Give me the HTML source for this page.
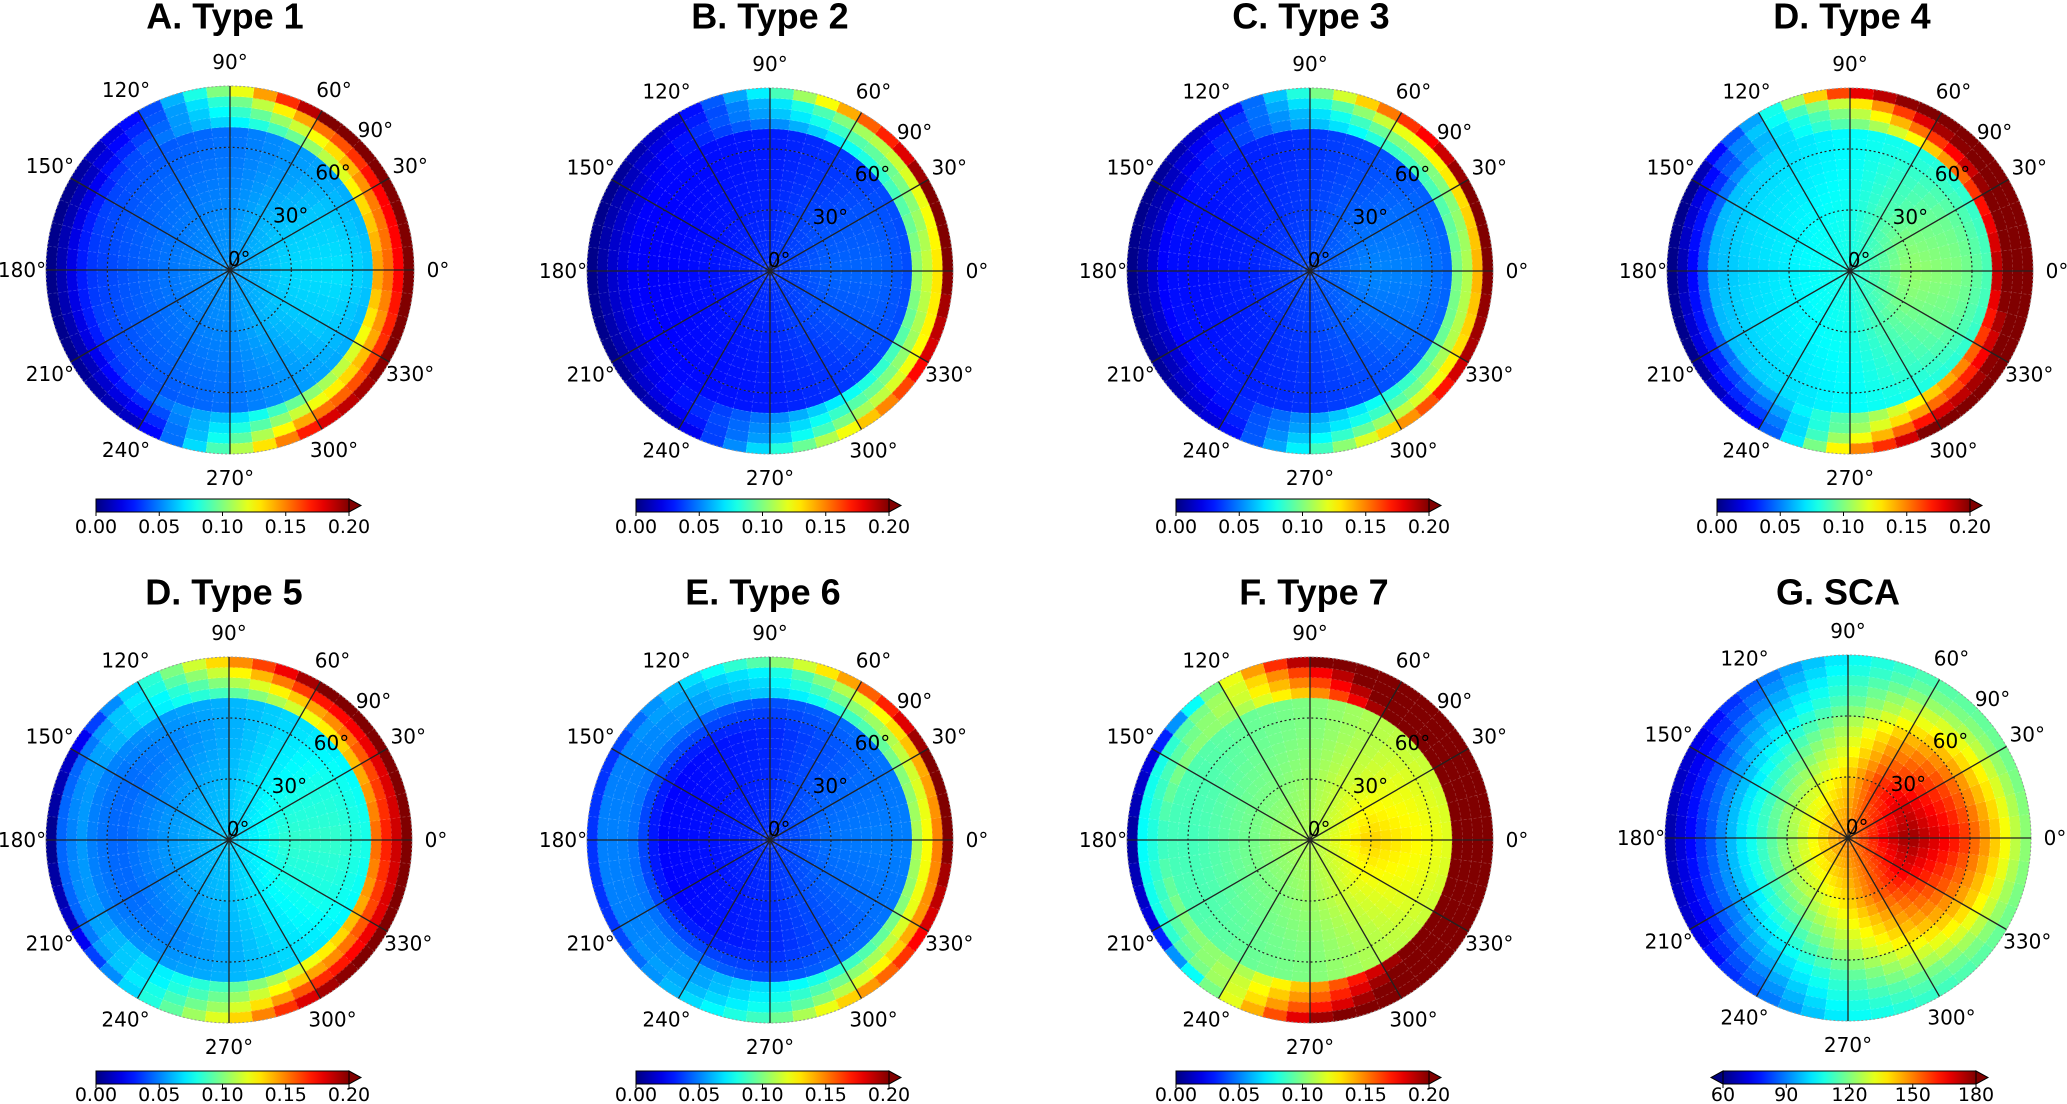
<!DOCTYPE html>
<html><head><meta charset="utf-8">
<style>
html,body{margin:0;padding:0;background:#fff;}
svg{display:block;}
</style></head>
<body>
<svg id="fig" xmlns="http://www.w3.org/2000/svg" width="2067" height="1104" viewBox="0 0 2067 1104">
<defs id="defs"></defs>
</svg>
<script>
// ---- data ----
const azimuthNodes = [0,30,60,90,120,150,180,210,240,270,300,330];
const zenithNodes = [0,30,55,67.5,72.5,77.5,82.5,87.5];
const panelTitles = ["A. Type 1","B. Type 2","C. Type 3","D. Type 4","D. Type 5","E. Type 6","F. Type 7","G. SCA"];
const typeTicks = ["0.00","0.05","0.10","0.15","0.20"];
const scaTicks = ["60","90","120","150","180"];
const angleTicks = [0,30,60,90,120,150,180,210,240,270,300,330];
const radialTicks = ["0°","30°","60°","90°"];

const type1Values = [
[.055,.068,.070,.065,.145,.155,.175,.200],
[.055,.065,.065,.060,.130,.150,.175,.200],
[.055,.060,.055,.055,.100,.120,.150,.200],
[.055,.052,.048,.047,.070,.080,.090,.110],
[.055,.050,.045,.042,.045,.040,.035,.030],
[.055,.048,.042,.038,.030,.020,.010,.003],
[.055,.048,.040,.035,.030,.020,.010,.002],
[.055,.048,.042,.038,.030,.020,.010,.003],
[.055,.050,.045,.042,.045,.035,.025,.015],
[.055,.052,.048,.047,.065,.075,.085,.100],
[.055,.060,.055,.055,.100,.120,.150,.180],
[.055,.065,.065,.060,.120,.140,.165,.200]];
const type2Values = [
[.035,.045,.045,.040,.105,.115,.130,.200],
[.035,.042,.042,.040,.090,.100,.120,.200],
[.035,.038,.035,.035,.075,.090,.105,.150],
[.035,.032,.030,.030,.050,.060,.065,.080],
[.035,.030,.027,.027,.030,.030,.025,.020],
[.035,.028,.025,.025,.020,.015,.010,.003],
[.035,.028,.024,.024,.020,.015,.008,.002],
[.035,.028,.025,.025,.020,.015,.010,.003],
[.035,.030,.027,.027,.030,.030,.025,.015],
[.035,.032,.030,.030,.050,.055,.060,.075],
[.035,.038,.035,.035,.075,.090,.105,.130],
[.035,.042,.042,.040,.090,.105,.125,.180]];
const type3Values = [
[.040,.052,.050,.045,.100,.110,.140,.200],
[.040,.048,.047,.044,.090,.100,.130,.200],
[.040,.043,.040,.040,.085,.100,.120,.160],
[.040,.037,.035,.035,.060,.065,.075,.090],
[.040,.034,.031,.031,.035,.035,.030,.020],
[.040,.032,.028,.028,.025,.015,.010,.003],
[.040,.031,.027,.027,.025,.015,.008,.002],
[.040,.032,.028,.028,.025,.015,.010,.003],
[.040,.034,.031,.031,.030,.030,.025,.020],
[.040,.037,.035,.035,.055,.060,.070,.080],
[.040,.043,.040,.040,.080,.090,.110,.140],
[.040,.048,.047,.044,.095,.110,.130,.190]];
const type4Values = [
[.080,.105,.100,.090,.190,.210,.220,.220],
[.080,.100,.095,.085,.170,.200,.210,.220],
[.080,.090,.085,.080,.130,.160,.190,.210],
[.080,.078,.075,.075,.095,.105,.120,.175],
[.080,.075,.070,.068,.065,.065,.070,.065],
[.080,.073,.068,.062,.045,.030,.020,.003],
[.080,.072,.066,.060,.040,.025,.010,.002],
[.080,.073,.068,.062,.045,.030,.020,.003],
[.080,.075,.070,.068,.060,.050,.040,.030],
[.080,.078,.075,.075,.095,.100,.115,.140],
[.080,.090,.085,.080,.130,.150,.180,.210],
[.080,.100,.095,.085,.160,.180,.200,.220]];
const type5Values = [
[.065,.085,.085,.080,.155,.170,.185,.210],
[.065,.080,.080,.075,.140,.160,.180,.210],
[.065,.072,.070,.068,.120,.140,.170,.200],
[.065,.062,.058,.060,.090,.105,.120,.140],
[.065,.058,.050,.055,.070,.070,.075,.075],
[.065,.055,.045,.050,.055,.055,.045,.015],
[.065,.055,.044,.050,.055,.050,.045,.002],
[.065,.055,.045,.050,.055,.055,.045,.015],
[.065,.058,.050,.055,.070,.070,.075,.075],
[.065,.062,.058,.060,.090,.100,.110,.125],
[.065,.072,.070,.068,.120,.140,.165,.190],
[.065,.080,.080,.075,.140,.160,.180,.210]];
const type6Values = [
[.035,.048,.050,.050,.110,.125,.150,.200],
[.035,.045,.047,.048,.100,.115,.140,.200],
[.035,.040,.040,.045,.085,.100,.115,.150],
[.035,.033,.032,.040,.065,.070,.075,.095],
[.035,.030,.028,.045,.055,.055,.060,.065],
[.035,.028,.025,.048,.050,.050,.050,.035],
[.035,.028,.025,.048,.050,.050,.050,.035],
[.035,.028,.025,.048,.050,.050,.050,.035],
[.035,.030,.028,.045,.055,.055,.060,.065],
[.035,.033,.032,.040,.070,.075,.080,.090],
[.035,.040,.040,.045,.085,.100,.115,.140],
[.035,.045,.047,.048,.100,.120,.145,.180]];
const type7Values = [
[.110,.135,.125,.120,.220,.220,.220,.220],
[.110,.125,.120,.115,.220,.220,.220,.220],
[.110,.115,.110,.110,.200,.210,.220,.220],
[.110,.105,.100,.100,.140,.155,.170,.200],
[.110,.100,.095,.095,.105,.110,.110,.110],
[.110,.098,.090,.090,.100,.090,.080,.020],
[.110,.097,.088,.088,.085,.080,.075,.005],
[.110,.098,.090,.090,.100,.090,.080,.020],
[.110,.100,.095,.095,.105,.110,.110,.110],
[.110,.105,.100,.100,.140,.150,.165,.190],
[.110,.115,.110,.110,.190,.200,.210,.220],
[.110,.125,.120,.115,.220,.220,.220,.220]];
const scaValues = [
[150,178,162,148,142,135,128,122],
[150,170,155,140,135,128,122,118],
[150,160,145,132,128,122,118,115],
[150,140,125,115,112,110,107,105],
[150,130,110,100,97,93,90,87],
[150,125,100,88,84,78,74,70],
[150,122,100,85,80,75,70,65],
[150,125,100,88,84,78,74,70],
[150,130,110,100,97,93,90,87],
[150,140,125,115,112,110,107,105],
[150,155,140,128,124,118,115,112],
[150,168,152,140,134,128,122,118]];

// ---- layout ----
const NS = "http://www.w3.org/2000/svg";
const svg = document.getElementById('fig');
const defs = document.getElementById('defs');
const panels = [
 {vals:type1Values,min:0,max:0.2,cx:230,cy:270,rx:184,ry:184,tx:225,ty:16,bx:96,by:499,ly:527,ticks:typeTicks,both:false},
 {vals:type2Values,min:0,max:0.2,cx:770,cy:271,rx:183,ry:183,tx:770,ty:16,bx:636,by:499,ly:527,ticks:typeTicks,both:false},
 {vals:type3Values,min:0,max:0.2,cx:1310,cy:271,rx:183,ry:183,tx:1311,ty:16,bx:1176,by:499,ly:527,ticks:typeTicks,both:false},
 {vals:type4Values,min:0,max:0.2,cx:1850,cy:271,rx:183,ry:183,tx:1852,ty:16,bx:1717,by:499,ly:527,ticks:typeTicks,both:false},
 {vals:type5Values,min:0,max:0.2,cx:229,cy:840,rx:183,ry:183,tx:224,ty:592,bx:96,by:1071,ly:1095,ticks:typeTicks,both:false},
 {vals:type6Values,min:0,max:0.2,cx:770,cy:840,rx:183,ry:183,tx:763,ty:592,bx:636,by:1071,ly:1095,ticks:typeTicks,both:false},
 {vals:type7Values,min:0,max:0.2,cx:1310,cy:840,rx:183,ry:183,tx:1314,ty:592,bx:1176,by:1071,ly:1095,ticks:typeTicks,both:false},
 {vals:scaValues,min:60,max:180,cx:1848,cy:838,rx:183,ry:183,tx:1838,ty:592,bx:1723,by:1071,ly:1095,ticks:scaTicks,both:true}
];
const BAR_W = 253, BAR_H = 13;

function clamp(v){return Math.max(0,Math.min(1,v));}
function jet(t){
  t = clamp(t);
  const r = clamp(1.5-Math.abs(4*t-3)), g = clamp(1.5-Math.abs(4*t-2)), b = clamp(1.5-Math.abs(4*t-1));
  return 'rgb('+Math.round(r*255)+','+Math.round(g*255)+','+Math.round(b*255)+')';
}
function sample(vals, az, z){
  az = ((az%360)+360)%360;
  const n = azimuthNodes.length;
  let i = Math.floor(az/30) % n; const fa = (az - azimuthNodes[i])/30; const i2 = (i+1)%n;
  let j = 0;
  while (j < zenithNodes.length-2 && z > zenithNodes[j+1]) j++;
  let fz = (z - zenithNodes[j])/(zenithNodes[j+1]-zenithNodes[j]);
  fz = Math.max(0, Math.min(1, fz));
  const v1 = vals[i][j]*(1-fz)+vals[i][j+1]*fz;
  const v2 = vals[i2][j]*(1-fz)+vals[i2][j+1]*fz;
  return v1*(1-fa)+v2*fa;
}
function mk(tag, attrs, parent){
  const e = document.createElementNS(NS, tag);
  for (const k in attrs) e.setAttribute(k, attrs[k]);
  (parent||svg).appendChild(e);
  return e;
}
function pt(p, z, a){
  const rad = a*Math.PI/180;
  return [p.cx + p.rx*(z/90)*Math.cos(rad), p.cy - p.ry*(z/90)*Math.sin(rad)];
}

const grad = mk('linearGradient',{id:'jetgrad',x1:'0',x2:'1',y1:'0',y2:'0'},defs);
for (let s=0;s<=20;s++){ mk('stop',{offset:(s/20),'stop-color':jet(s/20)},grad); }

panels.forEach((p, pi) => {
  const g = mk('g',{});
  
  
  const t = mk('text',{x:p.tx,y:p.ty,'text-anchor':'middle','dominant-baseline':'central','font-family':'"Liberation Sans", sans-serif','font-weight':'bold','font-size':'36'},g);
  t.textContent = panelTitles[pi];
  
  
  const cells = mk('g',{},g);
  
  
  for (let j=0;j<18;j++){
    const z0=j*5, z1=z0+5, zc=z0+2.5;
    for (let k=0;k<48;k++){
      const a0=k*7.5, a1=a0+7.5, ac=a0+3.75;
      const v = sample(p.vals, ac, zc);
      const col = jet((v-p.min)/(p.max-p.min));
      const pts = [pt(p,z1,a0),pt(p,z1,ac),pt(p,z1,a1)];
      if (z0>0){ pts.push(pt(p,z0,a1),pt(p,z0,ac),pt(p,z0,a0)); } else { pts.push([p.cx,p.cy]); }
      const poly = mk('polygon',{points:pts.map(q=>q[0].toFixed(1)+','+q[1].toFixed(1)).join(' '),fill:col,stroke:col,'stroke-width':'0.6'},cells);
      
      
    }
  }
  const fg = mk('g',{stroke:'rgba(255,255,255,0.22)','stroke-width':'0.7','stroke-dasharray':'3,2',fill:'none'},g);
  for (let j=1;j<18;j++){ mk('ellipse',{cx:p.cx,cy:p.cy,rx:p.rx*j/18,ry:p.ry*j/18},fg); }
  for (let k=0;k<48;k++){ const q=pt(p,90,k*7.5); mk('line',{x1:p.cx,y1:p.cy,x2:q[0],y2:q[1]},fg); }
  [30,60].forEach(z=>{
    const c = mk('ellipse',{cx:p.cx,cy:p.cy,rx:p.rx*z/90,ry:p.ry*z/90,fill:'none',stroke:'#222','stroke-width':'1.2','stroke-dasharray':'2,2.5'},g);
    
    
  });
  const edge = mk('ellipse',{cx:p.cx,cy:p.cy,rx:p.rx,ry:p.ry,fill:'none',stroke:'#999','stroke-width':'1','stroke-dasharray':'2,2'},g);
  
  
  angleTicks.forEach(a=>{
    const q = pt(p,90,a);
    const ln = mk('line',{x1:p.cx,y1:p.cy,x2:q[0],y2:q[1],stroke:'#222','stroke-width':'1.3'},g);
    
    
    const rad=a*Math.PI/180;
    const lx = p.cx + (p.rx+24)*Math.cos(rad), ly = p.cy - (p.ry+24)*Math.sin(rad);
    const lt = mk('text',{x:lx,y:ly,'text-anchor':'middle','dominant-baseline':'central','font-family':'"DejaVu Sans", sans-serif','font-size':'20'},g);
    lt.textContent = a+'°';
    
    
  });
  const rpos = [[0.05,-0.06],[0.33,-0.295],[0.56,-0.53],[0.79,-0.76]];
  radialTicks.forEach((s,i)=>{
    const rt = mk('text',{x:p.cx+rpos[i][0]*p.rx,y:p.cy+rpos[i][1]*p.ry,'text-anchor':'middle','dominant-baseline':'central','font-family':'"DejaVu Sans", sans-serif','font-size':'20'},g);
    rt.textContent = s;
    
    
  });
  const cb = mk('g',{},g);
  
  
  const x0=p.bx, x1=p.bx+BAR_W, y0=p.by, y1=p.by+BAR_H, ym=(y0+y1)/2;
  const tri = mk('polygon',{points:`${x1},${y0} ${x1+12},${ym} ${x1},${y1}`,fill:jet(1),stroke:'#000','stroke-width':'1'},cb);
  
  
  if (p.both){
    const tl = mk('polygon',{points:`${x0},${y0} ${x0-12},${ym} ${x0},${y1}`,fill:jet(0),stroke:'#000','stroke-width':'1'},cb);
    
    
  }
  mk('rect',{x:x0,y:y0,width:BAR_W,height:BAR_H,fill:'url(#jetgrad)',stroke:'#000','stroke-width':'1'},cb);
  p.ticks.forEach((s,i)=>{
    const tx = x0 + BAR_W*i/(p.ticks.length-1);
    mk('line',{x1:tx,y1:y1,x2:tx,y2:y1+4,stroke:'#000','stroke-width':'1'},cb);
    const tt = mk('text',{x:tx,y:p.ly,'text-anchor':'middle','dominant-baseline':'central','font-family':'"DejaVu Sans", sans-serif','font-size':'19'},cb);
    tt.textContent = s;
    
    
  });
});
</script>
</body></html>
